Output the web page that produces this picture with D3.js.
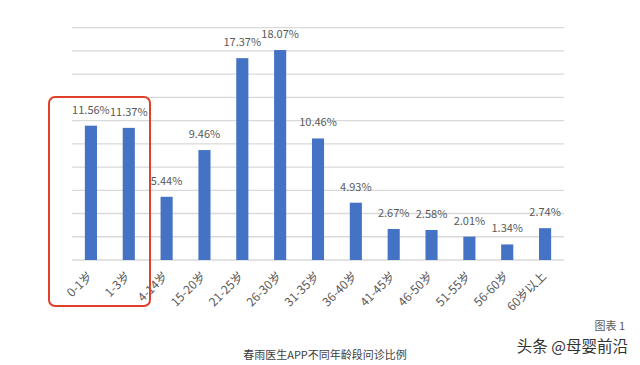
<!DOCTYPE html>
<html>
<head>
<meta charset="utf-8">
<script src="https://cdn.jsdelivr.net/npm/d3@7.9.0/dist/d3.min.js"></script>
<style>
  body { margin: 0; background: #fff; }
  svg text { font-family: "Noto Sans CJK SC", "Noto Sans", sans-serif; }
</style>
</head>
<body>
<div id="vis"></div>
<script>
// age groups and share of consultations (%)
const categories = ['0-1岁', '1-3岁', '4-14岁', '15-20岁', '21-25岁', '26-30岁', '31-35岁',
                    '36-40岁', '41-45岁', '46-50岁', '51-55岁', '56-60岁', '60岁以上'];
const values = [11.56, 11.37, 5.44, 9.46, 17.37, 18.07, 10.46, 4.93, 2.67, 2.58, 2.01, 1.34, 2.74];
const gridTicks = [0, 2, 4, 6, 8, 10, 12, 14, 16, 18, 20];
const title = '春雨医生APP不同年龄段问诊比例';

const W = 640, H = 365;
const svg = d3.select('#vis').append('svg').attr('width', W).attr('height', H);

const x = d3.scaleBand().domain(categories).range([72, 564]).paddingInner(0.68).paddingOuter(0.34);
const y = d3.scaleLinear().domain([0, 20]).range([260, 27.6]);

// gridlines
svg.append('g').selectAll('line')
  .data(gridTicks)
  .join('line')
    .attr('x1', 72).attr('x2', 564)
    .attr('y1', d => y(d)).attr('y2', d => y(d))
    .attr('stroke', '#d9d9d9').attr('stroke-width', 1.3);

// bars
svg.append('g').selectAll('rect')
  .data(values)
  .join('rect')
    .attr('x', (d, i) => x(categories[i]))
    .attr('width', x.bandwidth())
    .attr('y', d => y(d))
    .attr('height', d => y(0) - y(d))
    .attr('fill', '#4472c4');

// value labels
svg.append('g').selectAll('text')
  .data(values)
  .join('text')
    .attr('x', (d, i) => x(categories[i]) + x.bandwidth() / 2)
    .attr('y', d => y(d) - 12)
    .attr('text-anchor', 'middle')
    .attr('font-size', 11)
    .attr('fill', '#595959')
    .text(d => d.toFixed(2) + '%');

// rotated category labels
svg.append('g').selectAll('text')
  .data(categories)
  .join('text')
    .attr('transform', d => `translate(${x(d) + x.bandwidth() / 2 - 1},${274}) rotate(-45)`)
    .attr('text-anchor', 'end')
    .attr('dy', '0.35em')
    .attr('font-size', 12)
    .attr('fill', '#595959')
    .text(d => d);

// red highlight box around first two groups
svg.append('rect')
  .attr('x', 49).attr('y', 97)
  .attr('width', 101).attr('height', 209)
  .attr('rx', 6)
  .attr('fill', 'none')
  .attr('stroke', '#e0402a')
  .attr('stroke-width', 2);

svg.append('text')
  .attr('x', 325).attr('y', 359)
  .attr('text-anchor', 'middle')
  .attr('font-size', 11)
  .attr('fill', '#404040')
  .text(title);

svg.append('text')
  .attr('x', 625).attr('y', 330)
  .attr('text-anchor', 'end')
  .attr('font-size', 11)
  .attr('fill', '#595959')
  .text('图表 1');

svg.append('text')
  .attr('x', 628).attr('y', 352)
  .attr('text-anchor', 'end')
  .attr('font-size', 15.5)
  .attr('fill', '#333')
  .text('头条 @母婴前沿');
</script>
</body>
</html>
